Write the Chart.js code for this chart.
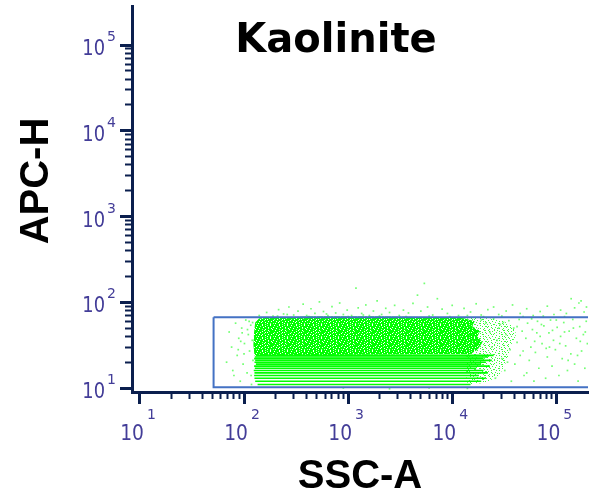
<!DOCTYPE html>
<html>
<head>
<meta charset="utf-8">
<script src="https://cdn.jsdelivr.net/npm/chart.js@4.4.1/dist/chart.umd.min.js"></script>
<style>
  html, body { margin: 0; padding: 0; background: #fff; }
  canvas { display: block; }
</style>
</head>
<body>
<canvas id="facs" width="592" height="498"></canvas>
<script>
// names
const chartTitle = 'Kaolinite';
const xTitle = 'SSC-A';
const yTitle = 'APC-H';

// log decades that get a label, and the minor steps in between
const decades = [1, 2, 3, 4, 5];
const minorSteps = [2, 3, 4, 5, 6, 7, 8, 9];

// rectangular gate [SSC-A, APC-H]
const gate = [[51, 67], [400000, 67], [400000, 10.2], [51, 10.2], [51, 67]];

// outline of the dense part of the cloud
const coreOutline = [
  [126, 24], [123, 32], [125, 45], [128, 58], [140, 65], [400, 68], [2000, 68],
  [6000, 67.5], [10000, 67], [13000, 65], [16500, 60], [15500, 53], [18500, 46],
  [17500, 40], [19500, 34], [17500, 28], [15000, 25], [126, 24]
];
// zone where the cloud thins out on the right
const fadeOutline = [
  [9000, 67], [16000, 67], [22000, 65], [30000, 61], [38000, 53], [41000, 42],
  [37000, 32], [34000, 22], [28000, 14], [20000, 11.5], [14000, 11.5], [14000, 67]
];

// discrete low APC-H rows (bright stripes) with where each starts / ends on SSC-A
const stripeLevels = [11, 12, 13, 14, 15, 16, 17, 18, 19, 20, 21, 22, 23, 24];
const stripeStart = [135, 128, 126, 125, 126, 124, 127, 125, 130, 126, 128, 125, 127, 130];
const stripeEnd = [15000, 19000, 21000, 18000, 22000, 20000, 17000, 23000, 19000, 21000, 24000, 20000, 22000, 25000];

// single events outside the dense core
const eventsAbove = [
  [140, 70], [165, 76], [190, 69], [215, 82], [240, 73], [270, 88], [300, 71], [330, 79],
  [370, 95], [400, 70], [440, 84], [480, 74], [530, 101], [580, 78], [640, 70], [700, 89],
  [760, 75], [830, 98], [900, 72], [980, 81], [1080, 70], [1190, 146], [1250, 86], [1350, 74],
  [1480, 93], [1600, 70], [1750, 79], [1900, 104], [2100, 72], [2300, 85], [2500, 76], [2800, 92],
  [3100, 70], [3400, 81], [3800, 75], [4200, 97], [4640, 121], [5400, 166], [5000, 79], [5800, 88],
  [6500, 71], [7200, 110], [8000, 83], [9000, 74], [10000, 92], [11500, 70], [13000, 85], [15000, 77],
  [17000, 96], [19000, 71], [22000, 82], [25000, 88], [28000, 72], [33000, 79], [38000, 93], [45000, 74],
  [52000, 84], [60000, 70], [70000, 78], [82000, 90], [95000, 72], [110000, 81], [125000, 74], [139000, 110],
  [150000, 86], [165000, 98], [173000, 104], [185000, 77], [195000, 88],
  [210, 69], [260, 72], [420, 68], [620, 73], [1000, 68], [1400, 71], [2000, 69], [3600, 68], [6000, 69],
  [9500, 68], [14000, 70], [20000, 68], [30000, 69], [48000, 68], [75000, 69], [120000, 68]
];
const eventsLeft = [
  [68, 20], [72, 45], [76, 30], [80, 14], [83, 57], [86, 24], [89, 38], [92, 12], [95, 50], [98, 19],
  [101, 33], [104, 62], [107, 15], [110, 42], [113, 27], [116, 54], [118, 11], [120, 36], [122, 21],
  [112, 60], [96, 44], [88, 28], [78, 16], [100, 25], [108, 48], [117, 14], [121, 58], [93, 35]
];
const eventsRight = [
  [19000, 62], [21000, 57], [23000, 45], [25000, 64], [26000, 13], [27000, 36], [29000, 55], [30000, 22],
  [31000, 58], [32000, 16], [33000, 42], [35000, 61], [36000, 28], [37000, 12], [39000, 50], [40000, 19],
  [42000, 34], [44000, 63], [45000, 24], [47000, 46], [49000, 14], [51000, 38], [53000, 57], [55000, 21],
  [57000, 30], [59000, 48], [61000, 12], [63000, 26], [66000, 60], [68000, 17], [70000, 40], [73000, 33],
  [76000, 53], [79000, 13], [82000, 23], [85000, 44], [88000, 62], [91000, 18], [94000, 36], [98000, 28],
  [102000, 51], [106000, 14], [110000, 40], [114000, 22], [118000, 58], [123000, 31], [128000, 16], [133000, 46],
  [138000, 25], [144000, 63], [150000, 19], [156000, 38], [162000, 12], [168000, 52], [175000, 27], [182000, 42],
  [188000, 17], [194000, 60], [199000, 33], [42000, 52], [58000, 64], [86000, 30], [120000, 45], [160000, 24],
  [24000, 30], [28000, 50], [34000, 20], [48000, 27], [65000, 44], [100000, 62],
  [52000, 15], [62000, 35], [72000, 55], [80000, 29], [92000, 47], [108000, 33], [130000, 21], [146000, 50],
  [170000, 35], [190000, 45]
];
const eventsBelow = [[900, 10], [2500, 9.8], [6000, 10], [14000, 9.9]];

const axisColor = '#0b1f4e';
const labelColor = '#433d98';

// speckle textures (style only): '#' green, '+' pale green, '.' empty
const denseTile = [
  '##.####.####+##.#',
  '#####+####.######',
  '#.######.####.###',
  '####.########+##.',
  '.######+##.######',
  '###.#####.###.###',
  '#######.######+##',
  '##+##.####.#.####',
  '#.#######+#######',
  '####.##.#####.##.',
  '######.###.######',
  '#+#.########.##+#',
  '#######.##+####.#'
];
const fadeTile = [
  '#..#.....##..#.....',
  '.....#........#..#.',
  '..#....#..#........',
  '#....#.....#...#...',
  '.......##.......#.#',
  '..#..........#.....',
  '.....#..#.#......#.',
  '.#.........#..#....',
  '....##..#......#...',
  '#........#..#.....#',
  '..#..#..........#..',
  '.......#..##.#.....',
  '.#..........#...#..',
  '...#.#...#.......#.',
  '#.......#.....#....'
];
function tilePattern(rows, green, pale) {
  const c = document.createElement('canvas');
  c.width = rows[0].length;
  c.height = rows.length;
  const g = c.getContext('2d');
  rows.forEach((r, y) => {
    for (let x = 0; x < r.length; x++) {
      if (r[x] === '.') continue;
      g.fillStyle = r[x] === '#' ? green : pale;
      g.fillRect(x, y, 1, 1);
    }
  });
  return g.createPattern(c, 'repeat');
}

const pts = arr => arr.map(([x, y]) => ({ x, y }));
const isDecade = v => Math.abs(Math.log10(v) - Math.round(Math.log10(v))) < 1e-9;

// tick values 10..100000 with minors
const tickValues = [];
decades.forEach((d, i) => {
  tickValues.push(Math.pow(10, d));
  if (i < decades.length - 1) minorSteps.forEach(m => tickValues.push(m * Math.pow(10, d)));
});
tickValues.sort((a, b) => a - b);

const stripeSets = stripeLevels.map((lvl, i) => ({
  type: 'line',
  data: [{ x: stripeStart[i], y: lvl }, { x: stripeEnd[i], y: lvl }],
  borderColor: '#00ff00',
  borderWidth: 1.6,
  pointRadius: 0,
  order: 2
}));

const powLabels = {
  id: 'powLabels',
  afterDraw(chart) {
    const ctx = chart.ctx;
    const xs = chart.scales.x, ys = chart.scales.y;
    const put = (txt, x, y, size, align, sx) => {
      ctx.save();
      ctx.translate(x, y);
      ctx.scale(sx, 1);
      ctx.font = size + 'px "DejaVu Sans"';
      ctx.textAlign = align;
      ctx.textBaseline = 'alphabetic';
      ctx.fillText(txt, 0, 0);
      ctx.restore();
    };
    ctx.save();
    ctx.fillStyle = labelColor;
    decades.forEach(d => {
      const px = xs.getPixelForValue(Math.pow(10, d));
      put('10', px + 4, 440, 22, 'right', 0.85);
      put(String(d), px + 7, 419, 14, 'left', 1);
      const py = ys.getPixelForValue(Math.pow(10, d));
      put('10', 105, py + 10, 21, 'right', 0.85);
      put(String(d), 107, py - 4, 14, 'left', 1);
    });
    ctx.fillStyle = '#000';
    ctx.font = 'bold 40px "DejaVu Sans"';
    ctx.textAlign = 'center';
    ctx.textBaseline = 'alphabetic';
    ctx.fillText(chartTitle, 336, 52);
    ctx.translate(48, 181);
    ctx.rotate(-Math.PI / 2);
    ctx.font = 'bold 40px "Liberation Sans"';
    ctx.fillText(yTitle, 0, 0);
    ctx.restore();
  }
};

const majorOr = (a, b) => c => (c.tick && isDecade(c.tick.value) ? a : b);

new Chart(document.getElementById('facs'), {
  type: 'scatter',
  data: {
    datasets: [
      {
        type: 'line', data: pts(gate), borderColor: '#4472c4', borderWidth: 2,
        pointRadius: 0, fill: false, order: 0
      },
      {
        type: 'scatter',
        data: pts(eventsAbove.concat(eventsLeft, eventsRight, eventsBelow)),
        pointStyle: 'rect', pointRadius: 1.2, borderWidth: 0,
        backgroundColor: 'rgba(40,255,40,0.65)', order: 1
      },
      ...stripeSets,
      {
        type: 'line', data: pts(coreOutline), fill: 'shape', tension: 0,
        backgroundColor: tilePattern(denseTile, '#00ff00', '#a8ffa8'), borderWidth: 0,
        pointRadius: 0, order: 3
      },
      {
        type: 'line', data: pts(fadeOutline), fill: 'shape', tension: 0.2,
        backgroundColor: tilePattern(fadeTile, 'rgba(20,255,20,0.85)', 'rgba(120,255,120,0.8)'), borderWidth: 0,
        pointRadius: 0, order: 4
      }
    ]
  },
  options: {
    responsive: false,
    animation: false,
    devicePixelRatio: 1,
    layout: { padding: { top: 6, left: 0, right: 0, bottom: 0 } },
    plugins: { legend: { display: false }, tooltip: { enabled: false } },
    scales: {
      x: {
        type: 'logarithmic',
        min: 8.391, max: 201700,
        afterBuildTicks: s => { s.ticks = tickValues.map(v => ({ value: v, major: isDecade(v) })); },
        afterFit: s => { s.height = 106; s.paddingLeft = 0; s.paddingRight = 0; },
        ticks: { display: false, autoSkip: false },
        grid: {
          drawOnChartArea: false, tickLength: 12, tickColor: axisColor,
          tickWidth: majorOr(3, 2), tickBorderDash: majorOr([], [5, 40])
        },
        border: { display: true, color: axisColor, width: 3 },
        title: {
          display: true, text: xTitle, color: '#000', padding: 0,
          font: { family: '"Liberation Sans", Arial, sans-serif', size: 40, weight: 'bold', lineHeight: 1.05 }
        }
      },
      y: {
        type: 'logarithmic',
        min: 8.983, max: 285000,
        afterBuildTicks: s => { s.ticks = tickValues.map(v => ({ value: v, major: isDecade(v) })); },
        afterFit: s => { s.width = 132; s.paddingTop = 0; s.paddingBottom = 0; },
        ticks: { display: false, autoSkip: false },
        grid: {
          drawOnChartArea: false, tickLength: 12, tickColor: axisColor,
          tickWidth: majorOr(3, 2),
          tickBorderDash: majorOr([], [6, 30]),
          tickBorderDashOffset: majorOr(0, 31)
        },
        border: { display: true, color: axisColor, width: 3 }
      }
    }
  },
  plugins: [powLabels]
});
</script>
</body>
</html>
